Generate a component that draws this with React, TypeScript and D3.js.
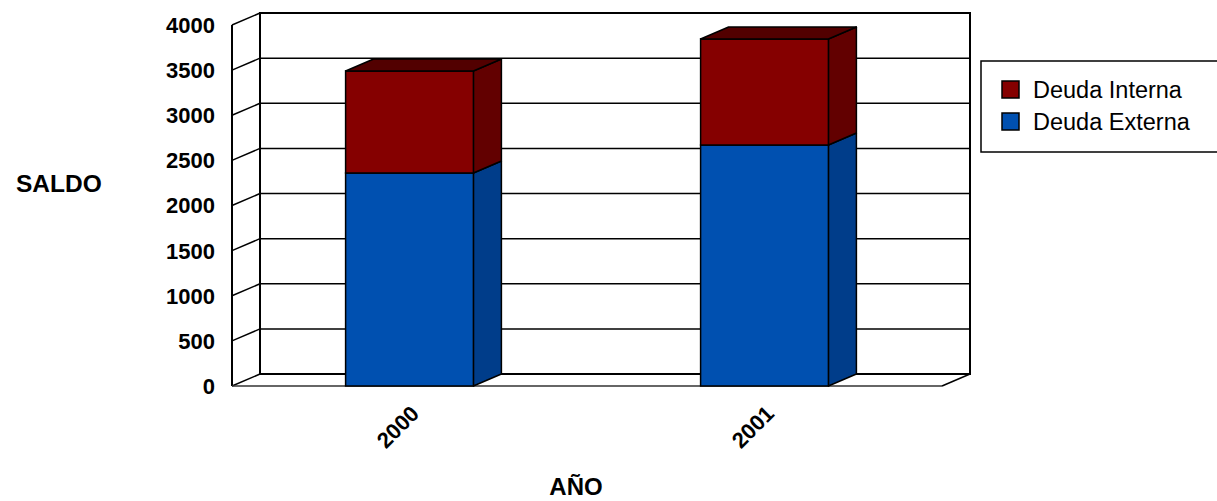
import React from "react";
import * as d3 from "d3";

const years = ["2000", "2001"];
const externa = [2360, 2670];
const interna = [1130, 1175];
const yTicks = [0, 500, 1000, 1500, 2000, 2500, 3000, 3500, 4000];
const seriesNames = ["Deuda Interna", "Deuda Externa"];

const W = 1217;
const H = 501;
const DX = 28;
const DY = 12;
const FONT = "'Liberation Sans', Arial, Helvetica, sans-serif";

const colors = {
  redFront: "#850000",
  redSide: "#620000",
  redTop: "#520000",
  blueFront: "#0050B0",
  blueSide: "#003D8A",
  blueTop: "#003070",
};

export default function App() {
  const yBack = d3.scaleLinear().domain([0, 4000]).range([374, 13]);
  const yFront = (v: number) => yBack(v) + DY;
  const x = d3.scaleBand<string>().domain(years).range([232, 942]);
  const bw = x.bandwidth() * 0.36;
  const wallL = 260;
  const wallR = 970;

  const stacks = years.map((yr, i) => {
    const cx = (x(yr) as number) + x.bandwidth() / 2;
    return {
      yr,
      cx,
      x0: cx - bw / 2,
      x1: cx + bw / 2,
      segs: [
        { lo: 0, hi: externa[i], front: colors.blueFront, side: colors.blueSide, top: colors.blueTop },
        { lo: externa[i], hi: externa[i] + interna[i], front: colors.redFront, side: colors.redSide, top: colors.redTop },
      ],
    };
  });

  return (
    <svg width={W} height={H} style={{ position: "absolute", left: 0, top: 0, background: "#fff" }}>
      {/* back wall */}
      <rect x={wallL} y={yBack(4000)} width={wallR - wallL} height={yBack(0) - yBack(4000)} fill="#fff" stroke="#000" strokeWidth={2} />
      {/* left wall */}
      <line x1={wallL - DX} y1={yFront(4000)} x2={wallL - DX} y2={yFront(0)} stroke="#000" strokeWidth={2} />
      {yTicks.map((t) => (
        <g key={t}>
          <line x1={wallL} x2={wallR} y1={yBack(t)} y2={yBack(t)} stroke="#000" strokeWidth={t === 0 || t === 4000 ? 2 : 1.5} />
          <line x1={wallL - DX} y1={yFront(t)} x2={wallL} y2={yBack(t)} stroke="#000" strokeWidth={1.5} />
          <text x={215} y={yFront(t)} dy="0.36em" textAnchor="end" fontFamily={FONT} fontWeight="bold" fontSize={22} fill="#000">
            {t}
          </text>
        </g>
      ))}
      {/* floor */}
      <line x1={232} x2={942} y1={yFront(0)} y2={yFront(0)} stroke="#333" strokeWidth={1.5} />
      <line x1={942} y1={yFront(0)} x2={wallR} y2={yBack(0)} stroke="#000" strokeWidth={1.5} />

      {/* bars */}
      {stacks.map((s) => (
        <g key={s.yr}>
          {s.segs.map((g, j) => {
            const yt = yFront(g.hi);
            const yb = yFront(g.lo);
            return (
              <g key={j}>
                <polygon
                  points={`${s.x1},${yb} ${s.x1 + DX},${yb - DY} ${s.x1 + DX},${yt - DY} ${s.x1},${yt}`}
                  fill={g.side}
                  stroke="#000"
                  strokeWidth={1.5}
                  strokeLinejoin="round"
                />
                <rect x={s.x0} y={yt} width={s.x1 - s.x0} height={yb - yt} fill={g.front} stroke="#000" strokeWidth={1.5} />
                {j === s.segs.length - 1 && (
                  <polygon
                    points={`${s.x0},${yt} ${s.x0 + DX},${yt - DY} ${s.x1 + DX},${yt - DY} ${s.x1},${yt}`}
                    fill={g.top}
                    stroke="#000"
                    strokeWidth={1.5}
                    strokeLinejoin="round"
                  />
                )}
              </g>
            );
          })}
          <text
            transform={`translate(${s.cx + 11},${415}) rotate(-45)`}
            textAnchor="end"
            fontFamily={FONT}
            fontWeight="bold"
            fontSize={22}
            fill="#000"
          >
            {s.yr}
          </text>
        </g>
      ))}

      {/* axis titles */}
      <text x={16} y={192} fontFamily={FONT} fontWeight="bold" fontSize={24.5} fill="#000">SALDO</text>
      <text x={576} y={495} textAnchor="middle" fontFamily={FONT} fontWeight="bold" fontSize={24} fill="#000">AÑO</text>

      {/* legend */}
      <rect x={981} y={61} width={260} height={91} fill="#fff" stroke="#000" strokeWidth={1.5} />
      {seriesNames.map((n, i) => (
        <g key={n}>
          <rect x={1002} y={81 + i * 32} width={17} height={17} fill={i === 0 ? colors.redFront : colors.blueFront} stroke="#000" strokeWidth={1.5} />
          <text x={1033} y={89.5 + i * 32} dy="0.36em" fontFamily={FONT} fontSize={23.5} fill="#000">{n}</text>
        </g>
      ))}
    </svg>
  );
}
